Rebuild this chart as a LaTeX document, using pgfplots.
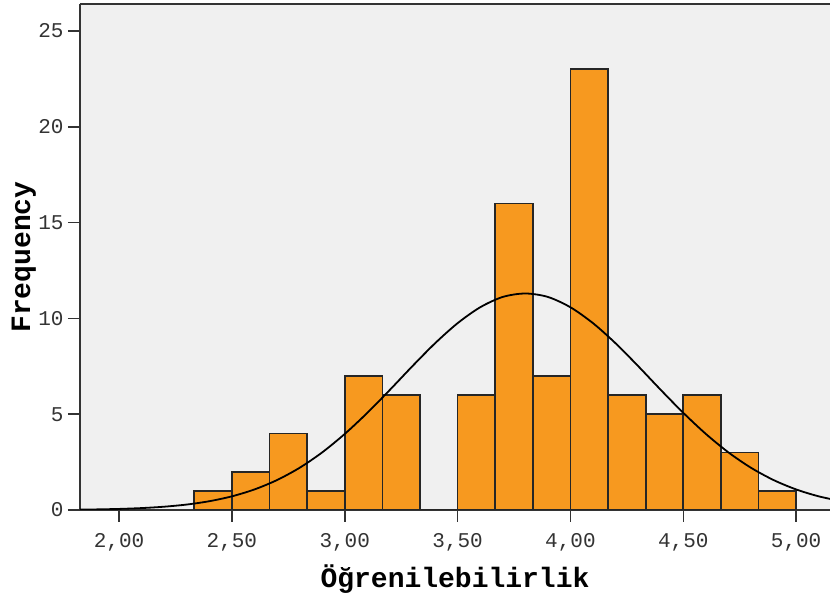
\documentclass[border=0pt]{standalone}
\usepackage{pgfplots}
\pgfplotsset{compat=1.18}
\usepackage{fontspec}
\setmainfont{Liberation Mono}
\usetikzlibrary{calc}
\definecolor{barorange}{HTML}{F7991F}
\definecolor{bgray}{HTML}{F0F0F0}
\begin{document}
\begin{tikzpicture}
\begin{axis}[
  scale only axis,
  width=750pt, height=506pt,
  xmin=1.827, xmax=5.150,
  ymin=0, ymax=26.41,
  axis x line*=box, axis y line*=left,
  axis line style={line width=1.6pt, black!80},
  axis background/.style={fill=bgray},
  xtick={2,2.5,3,3.5,4,4.5,5},
  xticklabels={{2,00},{2,50},{3,00},{3,50},{4,00},{4,50},{5,00}},
  ytick={0,5,10,15,20,25},
  xtick pos=bottom, ytick pos=left,
  tick align=outside,
  major tick length=12pt,
  tick style={line width=1.6pt, black!80},
  /pgf/number format/assume math mode=true,
  tick label style={font=\fontsize{21}{24}\selectfont, text=black!80},
  xticklabel style={yshift=-8pt},
  yticklabel style={xshift=-1pt},
  xlabel={\textbf{Öğrenilebilirlik}},
  ylabel={\textbf{Frequency}},
  label style={font=\fontsize{28}{30}\selectfont},
  xlabel style={at={(axis description cs:0.5,-0.136)}, anchor=center},
  ylabel style={at={(axis description cs:-0.075,0.5)}, anchor=center, rotate=0},
  clip=true,
]
\coordinate (sw) at (rel axis cs:0,0);
\coordinate (ne) at (rel axis cs:1,1);
\addplot[ybar interval, fill=barorange, draw=black!85, line width=1.7pt] coordinates {
(2.3333,1) (2.5,2) (2.6667,4) (2.8333,1) (3.0,7) (3.1667,6) (3.3333,0)
(3.5,6) (3.6667,16) (3.8333,7) (4.0,23) (4.1667,6) (4.3333,5) (4.5,6)
(4.6667,3) (4.8333,1) (5.0,1)
};
\addplot[smooth, black, line width=1.8pt, mark=none] coordinates {
(1.8,0.016) (1.9,0.031) (2.0,0.056) (2.1,0.100) (2.2,0.172) (2.3,0.285)
(2.4,0.458) (2.5,0.713) (2.6,1.073) (2.7,1.563) (2.8,2.203) (2.9,3.006)
(3.0,3.97) (3.1,5.07) (3.2,6.27) (3.3,7.51) (3.4,8.70) (3.5,9.75)
(3.6,10.58) (3.7,11.12) (3.8,11.30) (3.9,11.12) (4.0,10.58) (4.1,9.75)
(4.2,8.70) (4.3,7.51) (4.4,6.27) (4.5,5.07) (4.6,3.97) (4.7,3.006)
(4.8,2.203) (4.9,1.563) (5.0,1.073) (5.1,0.713) (5.2,0.458)
};
\end{axis}
\pgfresetboundingbox
\path[use as bounding box] ($(sw)+(-80pt,-91pt)$) rectangle ($(ne)+(0pt,4pt)$);
\end{tikzpicture}
\end{document}
